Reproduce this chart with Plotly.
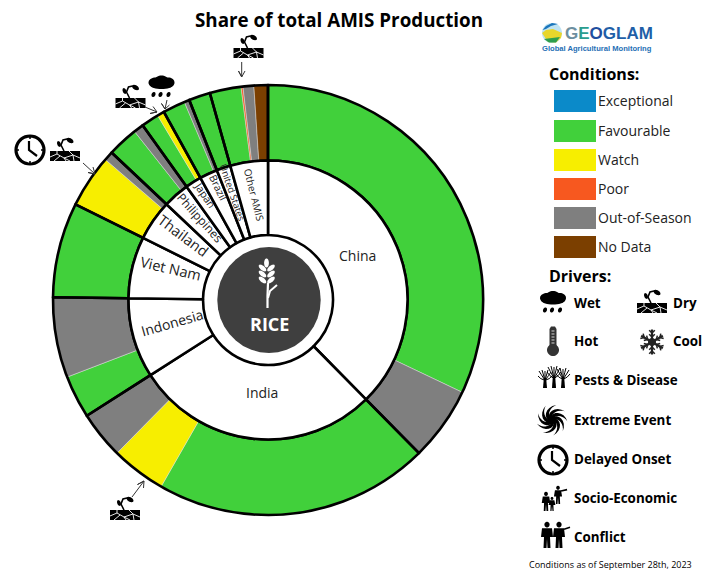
import math
import plotly.graph_objects as go

W, H = 716, 570
CX, CY = 268, 300
R_OUT, R_MID, R_IN = 215, 139.5, 65

countries = ["China", "India", "Indonesia", "Viet Nam", "Thailand", "Philippines", "Japan", "Brazil", "United States", "Other AMIS"]
country_share = [37.61, 28.34, 9.25, 7.14, 4.69, 3.06, 1.86, 2.08, 1.61, 4.36]
segment_values = [32.06, 5.55, 20.67, 4.11, 3.56, 3.22, 6.03, 7.14, 4.0, 0.69, 2.31, 0.75, 1.33, 0.48, 0.05, 1.69, 0.39, 1.61, 2.36, 0.14, 0.81, 1.05]
segment_condition = ["Favourable", "Out-of-Season", "Favourable", "Watch", "Out-of-Season", "Favourable", "Out-of-Season",
                     "Favourable", "Watch", "Out-of-Season", "Favourable", "Out-of-Season", "Favourable", "Watch", "Poor",
                     "Favourable", "Out-of-Season", "Favourable", "Favourable", "Poor", "Out-of-Season", "No Data"]
condition_names = ["Exceptional", "Favourable", "Watch", "Poor", "Out-of-Season", "No Data"]
condition_colors = ["#0B8AC9", "#41D03B", "#F7EE00", "#F7581F", "#7F7F7F", "#7B3F00"]
color_of = dict(zip(condition_names, condition_colors))

label_pos = {"China": (357, 255, 0, 14), "India": (262, 392, 0, 14), "Indonesia": (172, 322, -16, 14),
             "Viet Nam": (171, 268, 13, 14.5), "Thailand": (183, 236, 37, 14.5), "Philippines": (200, 217, 48, 12),
             "Japan": (205, 195, 56, 10.5), "Brazil": (218, 187, 64, 10.5), "United States": (232, 193, 71, 9.5),
             "Other AMIS": (254, 194, 76, 10)}

fig = go.Figure()


def dom(r):
    return dict(x=[(CX - r) / W, (CX + r) / W], y=[1 - (CY + r) / H, 1 - (CY - r) / H])


common = dict(sort=False, direction="clockwise", rotation=0, textinfo="none", hoverinfo="skip", showlegend=False)
fig.add_trace(go.Pie(values=segment_values, labels=[f"{i}" for i in range(len(segment_values))], domain=dom(R_OUT),
                     hole=R_MID / R_OUT, marker=dict(colors=[color_of[c] for c in segment_condition],
                                                     line=dict(color="#DDDDDD", width=0.5)), **common))
fig.add_trace(go.Pie(values=country_share, labels=countries, domain=dom(R_OUT), hole=R_MID / R_OUT,
                     marker=dict(colors=["rgba(0,0,0,0)"] * len(countries), line=dict(color="black", width=2.6)), **common))
fig.add_trace(go.Pie(values=country_share, labels=countries, domain=dom(R_MID), hole=R_IN / R_MID,
                     marker=dict(colors=["white"] * len(countries), line=dict(color="black", width=2.6)), **common))

shapes, annots = [], []


def fx(x):
    return x / W


def fy(y):
    return 1 - y / H


def poly(pts, fill="black", lw=0, color="black", close=True):
    d = "M " + " L ".join(f"{fx(x):.5f},{fy(y):.5f}" for x, y in pts) + (" Z" if close else "")
    shapes.append(dict(type="path", path=d, xref="paper", yref="paper", fillcolor=fill if close else "rgba(0,0,0,0)",
                       line=dict(color=color if lw else "rgba(0,0,0,0)", width=lw)))


def ell(cx, cy, rx, ry=None, fill="black", lw=0, color="black", rot=0):
    ry = rx if ry is None else ry
    c, s = math.cos(math.radians(rot)), math.sin(math.radians(rot))
    pts = []
    for i in range(36):
        t = 2 * math.pi * i / 36
        a, b = rx * math.cos(t), ry * math.sin(t)
        pts.append((cx + a * c - b * s, cy + a * s + b * c))
    poly(pts, fill, lw, color)


def line(pts, lw=1, color="black"):
    poly(pts, lw=lw, color=color, close=False)


def text(x, y, t, size, color="black", bold=False, anchor="left", angle=0, font="Open Sans"):
    if anchor == "left":
        x -= 1
    annots.append(dict(x=fx(x), y=fy(y), xref="paper", yref="paper", text=f"<b>{t}</b>" if bold else t, showarrow=False,
                       xanchor=anchor, yanchor="middle", textangle=angle, font=dict(size=size, color=color, family=font),
                       borderpad=0, align="left"))


def dry(cx, cy):
    poly([(cx - 15, cy + 1), (cx + 15, cy + 1), (cx + 15, cy + 11), (cx - 15, cy + 11)])
    for c in ([(cx - 15, cy + 7), (cx - 8, cy + 4), (cx - 1, cy + 8), (cx + 8, cy + 5), (cx + 15, cy + 8)],
              [(cx - 11, cy + 11), (cx - 5, cy + 6)], [(cx + 1, cy + 11), (cx - 1, cy + 8)], [(cx + 4, cy + 1), (cx + 8, cy + 5)],
              [(cx - 8, cy + 1), (cx - 8, cy + 4)], [(cx + 9, cy + 11), (cx + 8, cy + 5)], [(cx - 1, cy + 8), (cx + 5, cy + 11)]):
        line(c, 0.9, "white")
    line([(cx - 1, cy + 1), (cx - 4, cy - 5), (cx - 2, cy - 10), (cx + 2, cy - 11)], 1.6)
    ell(cx - 6, cy - 6, 3, 1.8, rot=70)
    ell(cx + 5, cy - 9.5, 3.8, 2.2, rot=30)


def wet(cx, cy):
    for dx, dy, rx, ry in ((-6, -4, 7, 5), (0, -6, 7, 5), (7, -4, 6, 5), (0, -2, 12, 4.5)):
        ell(cx + dx, cy + dy, rx, ry)
    for dx in (-8, -1, 7):
        ell(cx + dx, cy + 8, 1.9, 2.6, rot=25)


def clock(cx, cy, r=14):
    ell(cx, cy, r, r, fill="white", lw=3.2)
    for t in range(0, 360, 90):
        a = math.radians(t)
        line([(cx + (r - 3) * math.sin(a), cy + (r - 3) * math.cos(a)), (cx + r * math.sin(a), cy + r * math.cos(a))], 1.5)
    line([(cx - 1, cy - 9), (cx - 1, cy), (cx + 7, cy + 6)], 2.2)


def thermo(cx, cy):
    ell(cx, cy + 9, 6, 6, fill="#333333")
    poly([(cx - 3.5, cy + 6), (cx - 3.5, cy - 12), (cx - 2, cy - 14.5), (cx + 2, cy - 14.5), (cx + 3.5, cy - 12), (cx + 3.5, cy + 6)], fill="#333333")
    for k in range(5):
        line([(cx - 1.5, cy - 10 + k * 3), (cx + 1.5, cy - 10 + k * 3)], 0.8, "white")


def snow(cx, cy, r=12.5):
    for t in range(0, 360, 60):
        a = math.radians(t)
        ux, uy = math.sin(a), -math.cos(a)
        line([(cx, cy), (cx + r * ux, cy + r * uy)], 2.2, "#222222")
        for d in (5, 9):
            px, py = cx + d * ux, cy + d * uy
            for sg in (-1, 1):
                b = a + sg * math.radians(45)
                line([(px, py), (px + 4 * math.sin(b), py - 4 * math.cos(b))], 1.5, "#222222")
    ell(cx, cy, 4, 4, fill="#222222")


def tree(cx, base, h):
    poly([(cx - 2, base), (cx + 2, base), (cx + 1.2, base - h * .55), (cx - 1.2, base - h * .55)])
    for dx, dy in ((-6, -h), (-3, -h - 1), (0, -h), (3, -h - 1), (6, -h + 1), (-7, -h + 5), (7, -h + 5)):
        line([(cx, base - h * .45), (cx + dx * .6, base + dy * .78), (cx + dx, base + dy)], 1)


def swirl(cx, cy, r=15.5):
    ell(cx, cy, 4, 4)
    n = 9
    for i in range(n):
        t0 = 2 * math.pi * i / n
        outer, inner = [], []
        for k in range(9):
            f = k / 8
            rad = 3 + (r - 3) * f
            ang = t0 + 1.5 * f
            w = 0.45 * (1 - f)
            outer.append((cx + rad * math.cos(ang + w), cy + rad * math.sin(ang + w)))
            inner.append((cx + rad * math.cos(ang - w), cy + rad * math.sin(ang - w)))
        poly(outer + inner[::-1])


def person(cx, top, h, w=None, arm=0):
    w = w or h * .34
    ell(cx, top + h * .1, h * .1, h * .11)
    poly([(cx - w / 2, top + h * .24), (cx + w / 2, top + h * .24), (cx + w / 2 + 1, top + h * .58), (cx + w * .3, top + h * .58),
          (cx + w * .35, top + h), (cx + .5, top + h), (cx, top + h * .65), (cx - .5, top + h), (cx - w * .35, top + h),
          (cx - w * .3, top + h * .58), (cx - w / 2 - 1, top + h * .58)])
    if arm:
        line([(cx + arm * w / 2, top + h * .28), (cx + arm * (w / 2 + 6), top + h * .2)], 1.6)


# centre
ell(269, 300, 51.7, 53, fill="#3F3F3F")
line([(267.5, 308), (267.5, 296), (268, 283)], 2.2, "white")
line([(268, 298), (270, 291), (277, 285)], 2, "white")
ell(266.5, 263, 2.4, 4.6, fill="white")
for dy in (0, 6, 12):
    ell(262.5, 268 + dy, 2.2, 4.6, fill="white", rot=-50)
    ell(271, 268 + dy, 2.2, 4.6, fill="white", rot=50)
text(269, 324, "RICE", 18, "white", bold=True, anchor="center")

# ring labels
for name in countries:
    x, y, a, size = label_pos[name]
    text(x, y, name, size, "#222222", anchor="center", angle=a)

# title and footer
text(338.5, 20, "Share of total AMIS Production", 18.8, bold=True, anchor="center")
text(610.5, 564, "Conditions as of September 28th, 2023", 9, anchor="center")

# legend
text(549, 74, "<b>Conditions:</b>", 16)
swatch_tops = [90, 120, 149, 178, 207, 236]
for name, col, t in zip(condition_names, condition_colors, swatch_tops):
    poly([(554, t), (596, t), (596, t + 22), (554, t + 22)], fill=col)
    text(598, t + 10, name, 14, "#222222")
text(549, 276, "<b>Drivers:</b>", 16)

DS = 13.4
wet(553, 302)
text(574, 303, "Wet", DS, bold=True)
dry(652, 302)
text(673, 303, "Dry", DS, bold=True)
thermo(553, 341)
text(574, 341, "Hot", DS, bold=True)
snow(652, 342)
text(673, 341, "Cool", DS, bold=True)
for dx, h in ((-10, 17), (-1, 21), (8, 19)):
    tree(555 + dx, 388, h)
text(574, 380, "Pests &amp; Disease", DS, bold=True)
swirl(552, 420)
text(574, 420, "Extreme Event", DS, bold=True)
clock(553, 460)
text(574, 459, "Delayed Onset", DS, bold=True)
person(546, 492, 19, arm=0)
person(558, 486, 18, arm=1)
person(552, 497, 14)
text(574, 498, "Socio-Economic", DS, bold=True)
person(547, 522, 26, w=10)
person(559, 522, 26, w=10, arm=1)
text(574, 537, "Conflict", DS, bold=True)

# chart call-outs
dry(248.5, 47)
line([(241.7, 62), (241.7, 77), (238.5, 71), (241.7, 77), (245, 71)], 1, "#333333")
wet(161.5, 86.5)
dry(130.5, 97)
line([(145, 107), (157, 112), (150, 113.5), (157, 112), (153, 106.5)], 1, "#333333")
line([(167, 100), (165, 109), (161.5, 103.5), (165, 109), (169.5, 105)], 1, "#333333")
clock(30, 150)
dry(65, 150)
line([(83, 163), (95, 174), (88, 172.5), (95, 174), (93, 167)], 1, "#333333")
dry(125, 509)
line([(132, 497), (144, 481), (137.5, 484.5), (144, 481), (143.5, 488)], 1, "#333333")

# logo
ell(552, 33, 10, fill="#BFE3F2")
poly([(542, 33), (546, 30), (553, 29), (562, 33), (561, 38), (556, 42.5), (548, 42)], fill="#E8D62C")
poly([(544, 39), (552, 38), (560, 37), (556, 42.5), (549, 42.5)], fill="#2E9E4F")
poly([(542.5, 30), (546, 26), (552, 23), (558, 24), (551, 26), (546, 29)], fill="#1B75BC")
annots.append(dict(x=fx(563), y=fy(34), xref="paper", yref="paper", showarrow=False, xanchor="left", yanchor="middle",
                   text='<b><span style="color:#6D8FA0">G</span><span style="color:#2A9D8F">E</span>'
                        '<span style="color:#1F4FA0">O</span><span style="color:#1F5FA8">GLAM</span></b>',
                   font=dict(size=17, family="Liberation Sans")))
text(542, 48, "Global Agricultural Monitoring", 7.6, "#1F6FB5", bold=True, font="Liberation Sans")

fig.update_layout(width=W, height=H, autosize=False, margin=dict(l=0, r=0, t=0, b=0), paper_bgcolor="white",
                  plot_bgcolor="white", shapes=shapes, annotations=annots, showlegend=False)
fig.write_html("out.html", post_script="document.body.style.margin='0';", config=dict(displayModeBar=False))
